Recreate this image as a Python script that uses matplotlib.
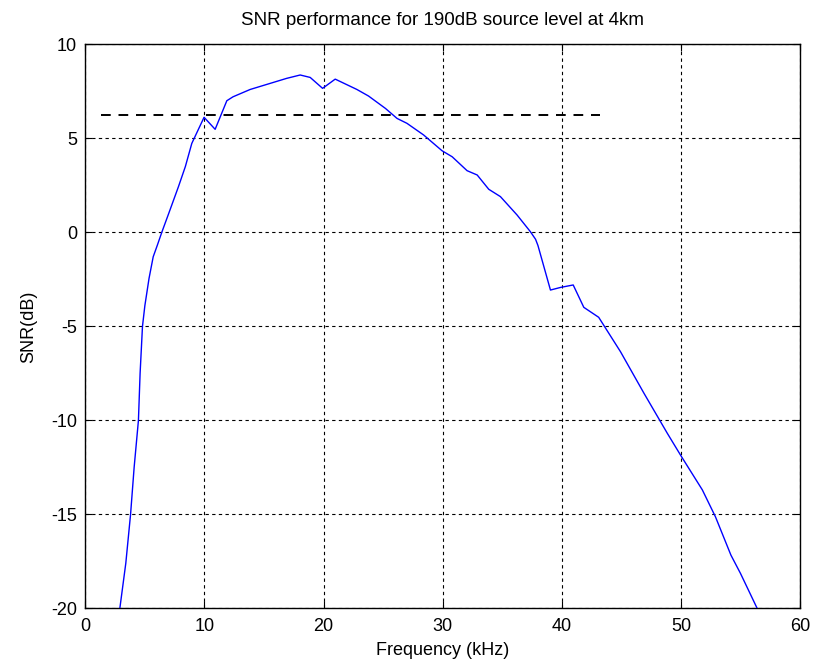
#!/usr/bin/env python3
"""SNR vs frequency, 190 dB source level at 4 km (MATLAB-style figure)."""
import matplotlib
matplotlib.use("Agg")
import matplotlib.pyplot as plt

plt.rcParams["font.family"] = ["Liberation Sans", "DejaVu Sans"]
plt.rcParams["axes.unicode_minus"] = False

# curve (kHz, dB)
freq_khz = [2.9, 3.4, 3.8, 4.1, 4.46, 4.6, 4.8, 5.0, 5.35, 5.7, 6.05, 6.42,
            7.0, 7.82, 8.4, 8.94, 9.97, 10.9, 11.88, 12.4, 13.84, 15.24,
            16.9, 18.04, 18.88, 19.92, 20.98, 22.8, 23.78, 25.2, 26.17, 27.0,
            28.4, 29.95, 30.8, 32.05, 32.9, 33.87, 34.85, 36.25, 37.37, 37.8,
            38.0, 39.05, 39.9, 40.96, 41.85, 43.1, 44.93, 46.9, 48.86, 49.97,
            51.8, 52.9, 54.2, 55.0, 56.4]
snr_db = [-20.0, -17.6, -15.0, -12.5, -10.0, -7.5, -5.0, -3.9, -2.45, -1.3,
          -0.68, 0.0, 1.0, 2.43, 3.5, 4.73, 6.12, 5.48, 7.0, 7.21, 7.6, 7.87,
          8.19, 8.37, 8.24, 7.66, 8.15, 7.6, 7.25, 6.59, 6.06, 5.8, 5.18,
          4.34, 4.02, 3.28, 3.05, 2.29, 1.9, 0.92, 0.03, -0.37, -0.7, -3.07,
          -2.93, -2.8, -3.99, -4.52, -6.35, -8.56, -10.69, -11.85, -13.7,
          -15.13, -17.17, -18.14, -20.0]

# threshold reference line
thr_x = [1.3, 43.2]
thr_y = [6.25, 6.25]

xticks = [0, 10, 20, 30, 40, 50, 60]
yticks = [-20, -15, -10, -5, 0, 5, 10]

fig = plt.figure(figsize=(8.14, 6.72), dpi=100)
ax = fig.add_axes([0.1048, 0.0948, 0.878, 0.8392])

ax.plot(freq_khz, snr_db, color="#0000FF", lw=1.0, zorder=3)
ax.plot(thr_x, thr_y, color="black", lw=1.4, ls=(0, (5, 4)), zorder=3)

ax.set_xlim(0, 60)
ax.set_ylim(-20, 10)
ax.set_xticks(xticks)
ax.set_yticks(yticks)
ax.grid(True, color="black", lw=0.8, ls=(0, (3, 3)))
ax.tick_params(direction="in", length=5, width=0.8, top=True, right=True,
               labelsize=13, pad=7, colors="black")
ax.tick_params(axis="y", pad=6)
for sp in ax.spines.values():
    sp.set_linewidth(1.0)

ax.set_xlabel("Frequency (kHz)", fontsize=13, labelpad=5)
ax.set_ylabel("SNR(dB)", fontsize=13, labelpad=10)
ax.set_title("SNR performance for 190dB source level at 4km", fontsize=13.5, pad=14)

fig.savefig("out.png", dpi=100)
